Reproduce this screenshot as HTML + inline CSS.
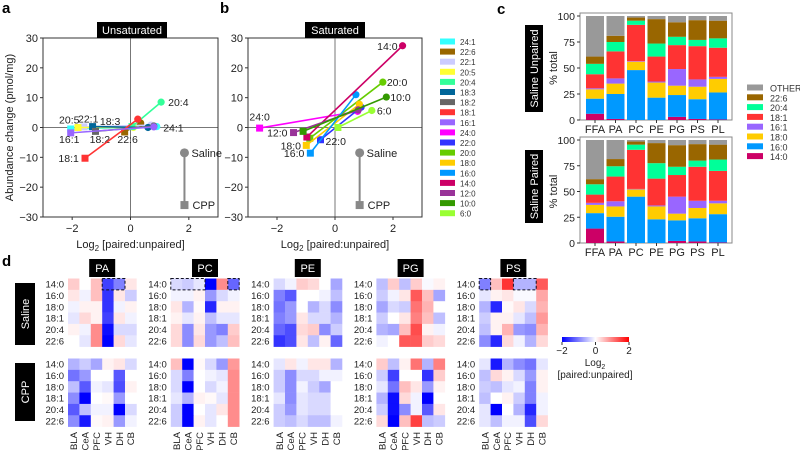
<!DOCTYPE html>
<html><head><meta charset="utf-8"><style>
body{margin:0;background:#fff}
svg{display:block;font-family:"Liberation Sans",Arial,sans-serif}
</style></head><body>
<svg id="fig" width="800" height="450" viewBox="0 0 800 450" xmlns="http://www.w3.org/2000/svg"></svg>
<script>
// ---------- data: panels a/b ----------
const unsatNames = ["24:1","22:6","22:1","20:5","20:4","18:3","18:2","18:1","16:1"];
const unsatColors = ["#33ffff","#996600","#ccccff","#ffff33","#33ff99","#006699","#666666","#ff3333","#9966ff"];
const unsatSalX = [0.9,0.35,0.7,0.1,1.05,0.6,0.8,0.25,0.8];
const unsatSalY = [0.3,1.5,0.8,0,8.5,0,0.5,2.8,0.2];
const unsatCppX = [-2.05,-0.2,-1.6,-1.8,0.05,-1.3,-1.2,-1.56,-2.05];
const unsatCppY = [-0.5,-1.5,0.2,0,0.3,0.3,-1.3,-10.3,-1.8];
const satNames = ["24:0","22:0","20:0","18:0","16:0","14:0","12:0","10:0","6:0"];
const satColors = ["#ff00ff","#3333ff","#66cc00","#ffcc00","#0099ff","#cc0066","#993399","#339900","#99ff33"];
const satSalX = [0.78,0.9,1.65,0.84,0.72,2.33,0.8,1.77,1.27];
const satSalY = [5.4,6.8,15.2,7.8,11,27.4,5.9,10.2,5.7];
const satCppX = [-2.6,-0.5,-0.87,-0.99,-0.85,-0.97,-1.43,-1.1,0.1];
const satCppY = [-0.2,-4.1,-3.6,-6,-8.6,-3.2,-1.7,-1.3,0];
const xTicks = [-2,0,2];
const yTicks = [30,20,10,0,-10,-20,-30];
// ---------- data: panel c ----------
const classes = ["FFA","PA","PC","PE","PG","PS","PL"];
const stackNames = ["14:0","16:0","18:0","16:1","18:1","20:4","22:6","OTHER"];
const stackColors = ["#cc0066","#0099ff","#ffcc00","#9966ff","#ff3333","#00ff99","#996600","#999999"];
const unpaired = [
 [6,14.5,9,1,13.5,10,7,39],[1,24,10,5,26,9,6,19],[0,48,8,0.5,35,4,3,1.5],
 [0,21.5,14.5,1,24,12.5,23.5,3],[3,21,9,16,23,8,14,6],[1,19,12,7,32,6,19,4],[0.5,26,13,2,28,9,17,4.5]];
const paired = [
 [14,15,8,2,8,10,5,38],[1.5,24,10,5,24,10,7,18.5],[0,45,7,0.5,38,5,3,1.5],
 [0,23,12.5,1,26,15,19.5,3],[2,20,6.5,16.5,21,8,21,5],[1.5,22.5,10,7,33,6,16,4],[0.5,27.5,10.5,2.5,29,11,14.5,4.5]];
const pctTicks = [0,25,50,75,100];
// ---------- data: panel d ----------
const hmClasses = ["PA","PC","PE","PG","PS"];
const hmRows = ["14:0","16:0","18:0","18:1","20:4","22:6"];
const hmCols = ["BLA","CeA","PFC","VH","DH","CB"];
const salineVals = [
 [[0.4,0,0.5,-1.5,-1,0.2],[0.2,-0.1,0.5,-1.6,0.2,-0.4],[-0.1,0.1,0.1,-1.6,-0.1,0.1],[-0.2,0.3,0.1,-1.5,0.2,-0.1],[0.1,-0.1,0.9,-1.9,-0.3,-0.3],[0,-0.2,0.9,-2,0.3,-0.2]],
 [[-0.3,-0.4,-0.2,-2,0.9,-1.2],[-0.1,-0.1,0.1,-0.8,-0.3,-0.1],[0.2,-0.6,0.05,-1.7,0.1,0.1],[0.1,-0.2,0.1,-0.5,-0.2,-0.2],[0.3,-0.9,0.2,-0.8,-1,0.4],[0.3,-0.9,0.3,-0.8,-0.5,0.5]],
 [[-0.3,-0.1,0.4,0.3,0,-0.7],[-1,-1.3,0,0,-0.1,-0.5],[-1.1,-0.8,0,-0.6,-0.3,-0.9],[-1,-0.8,0.2,-0.3,-0.3,-0.6],[-1.2,-1.4,0.3,0.4,-0.9,-0.4],[-1.6,-1.4,0.2,-0.5,0.1,-1.2]],
 [[-0.5,0.4,-0.5,0.4,-0.05,0.1],[-0.4,-0.1,0.2,1.3,0.5,-0.7],[-0.7,-0.3,-0.4,1.1,0.6,0],[-0.4,0,0.2,1,0.5,-0.5],[-0.6,-0.7,0.5,1.4,0.1,-0.1],[-0.1,0,1.3,1.3,0.4,0.3]],
 [[-1,0.5,1.6,-0.6,-0.6,1.3],[-0.2,0.1,0.2,-0.05,-0.05,0.7],[-0.6,-1.7,0.05,0.2,-0.3,0.6],[-0.4,0.1,0.1,-0.2,-0.5,0.8],[-0.5,0.1,0.6,-0.8,-0.9,0.6],[-0.9,-1.7,0.3,-0.1,-0.6,0.3]]];
const cppVals = [
 [[-0.6,-0.4,-0.7,0.1,0.2,-0.3],[-1.1,-0.8,0,0,-1.3,0],[-0.5,-1.3,-0.1,-0.2,-1.4,0.1],[-0.9,-2,0,0.05,-0.8,0],[-1.3,-0.5,-0.1,-0.1,-2,-0.3],[-0.9,-1.8,0.05,0.1,-0.8,-0.1]],
 [[0.5,-2,0.05,-0.3,-0.8,0.8],[-0.3,-1,0,-0.1,-0.2,0.9],[-0.3,-2,0,-0.3,-0.1,0.9],[-0.2,-0.6,0.1,0.05,-0.2,0.9],[-0.4,-2,0,-0.2,0.2,0.9],[-0.4,-2,0.1,-0.2,0,0.9]],
 [[-0.2,0.2,-0.1,0.2,0.2,-0.6],[-0.4,-0.9,-0.3,-0.3,-0.1,-0.1],[-0.4,-0.9,-0.1,-0.4,-0.7,0],[-0.2,-0.9,-0.2,-0.3,-0.3,0],[-0.4,-0.8,-0.2,-0.3,-0.3,0],[-0.4,-0.5,-0.3,-0.5,-0.5,-0.1]],
 [[0.4,-0.5,0.1,1.1,-0.6,1],[-0.4,-1.5,0,0,-1.6,0.4],[-0.2,-1.1,0.5,0.2,-0.8,0.1],[-0.6,-1.9,0.3,-0.1,-2,0],[-0.4,-1.9,-0.9,-0.1,-1.3,0.2],[0.3,-2,0.5,1.5,-0.5,-0.4]],
 [[-0.2,-1.8,-0.6,-0.9,-1.1,-0.2],[-0.5,0.3,0.1,-0.3,-0.8,0.1],[-0.4,-0.5,-0.2,-0.1,-1,0.1],[-0.5,0,0.1,-0.4,-1,-0.1],[-0.2,-2,0,-0.6,-1.7,-0.1],[-0.2,-0.5,-0.1,-0.1,-1.4,0.3]]];

const NS="http://www.w3.org/2000/svg";
const svg=document.getElementById('fig');
function mk(tag,attrs,parent,name,inter){
  const e=document.createElementNS(NS,tag);
  for(const k in attrs) e.setAttribute(k,attrs[k]);
  
  
  (parent||svg).appendChild(e);return e;
}
function txt(x,y,s,size,anchor,parent,name,extra){
  const a={x:x,y:y,'font-size':size,'text-anchor':anchor||'start',fill:'#222'};
  if(extra) for(const k in extra) a[k]=extra[k];
  const t=mk('text',a,parent,name);t.textContent=s;return t;
}
function box(cx,y,w,h,s,name,rot){
  const g=mk('g',{},svg,name);
  mk('rect',{x:cx-w/2,y:y,width:w,height:h,fill:'#000'},g,name+'-bg');
  if(rot){txt(0,0,s,11,'middle',g,name+'-text',{fill:'#fff',transform:`translate(${cx+4},${y+h/2}) rotate(-90)`});}
  else txt(cx,y+h/2+4,s,11,'middle',g,name+'-text',{fill:'#fff'});
}
// panel letters
txt(2,13,'a',15,'start',svg,'panel-label-a',{'font-weight':'bold',fill:'#000'});
txt(220,13,'b',15,'start',svg,'panel-label-b',{'font-weight':'bold',fill:'#000'});
txt(497,14,'c',15,'start',svg,'panel-label-c',{'font-weight':'bold',fill:'#000'});
txt(2,266,'d',15,'start',svg,'panel-label-d',{'font-weight':'bold',fill:'#000'});

// ---------- scatter panels ----------
function scatter(L,R,title,names,colors,sx,sy,cx,cy,labelFn,key,keyX,showYLabel,tlX){
  const T=38,B=217;
  const X=v=>L+(v+3)/6*(R-L), Y=v=>T+(30-v)/60*(B-T);
  const g=mk('g',{},svg,key+'-chart');
  box(tlX,22,title==='Unsaturated'?70:60,16,title,key+'-title');
  mk('line',{x1:X(0),x2:X(0),y1:T,y2:B,stroke:'#777','stroke-width':1},g,'zero-vline');
  mk('line',{x1:L,x2:R,y1:Y(0),y2:Y(0),stroke:'#777','stroke-width':1},g,'zero-hline');
  mk('rect',{x:L,y:T,width:R-L,height:B-T,fill:'none',stroke:'#333','stroke-width':1},g,'plot-frame');
  yTicks.forEach(v=>{mk('line',{x1:L-3,x2:L,y1:Y(v),y2:Y(v),stroke:'#333'},g,'y-tick');
    txt(L-5,Y(v)+4,(v<0?'\u2212'+(-v):String(v)),11,'end',g,'y-tick-label');});
  xTicks.forEach(v=>{mk('line',{x1:X(v),x2:X(v),y1:B,y2:B+3,stroke:'#333'},g,'x-tick');
    txt(X(v),B+15,(v<0?'\u2212'+(-v):String(v)),11,'middle',g,'x-tick-label');});
  const xl=txt((L+R)/2,B+31,'Log',11,'middle',g,'x-axis-title');
  const s1=document.createElementNS(NS,'tspan');s1.setAttribute('font-size','8');s1.setAttribute('dy','3');s1.textContent='2';xl.appendChild(s1);
  const s2=document.createElementNS(NS,'tspan');s2.setAttribute('dy','-3');s2.textContent=' [paired:unpaired]';xl.appendChild(s2);
  if(showYLabel) txt(0,0,'Abundance change (pmol/mg)',11,'middle',g,'y-axis-title',{transform:`translate(13,${(T+B)/2}) rotate(-90)`});
  names.forEach((n,i)=>{
    const sg=mk('g',{},g,'series-'+n);
    mk('line',{x1:X(sx[i]),y1:Y(sy[i]),x2:X(cx[i]),y2:Y(cy[i]),stroke:colors[i],'stroke-width':1.6},sg,'series-line');
    mk('rect',{x:X(cx[i])-3.5,y:Y(cy[i])-3.5,width:7,height:7,fill:colors[i]},sg,'cpp-point');
    mk('circle',{cx:X(sx[i]),cy:Y(sy[i]),r:3.6,fill:colors[i]},sg,'saline-point');
    const lb=labelFn(n,i,X,Y); if(lb) txt(lb[0],lb[1],n,10.5,lb[2],sg,'point-label');
  });
  // key
  const kx=X(keyX);
  mk('line',{x1:kx,x2:kx,y1:Y(-8.5),y2:Y(-26),stroke:'#888','stroke-width':2},g,'key-stem');
  mk('circle',{cx:kx,cy:Y(-8.5),r:4.5,fill:'#888'},g,'key-saline-marker');
  mk('rect',{x:kx-4,y:Y(-26)-4,width:8,height:8,fill:'#888'},g,'key-cpp-marker');
  txt(kx+7,Y(-8.5)+4,'Saline',11,'start',g,'key-saline-label');
  txt(kx+8,Y(-26)+4,'CPP',11,'start',g,'key-cpp-label');
}
const unsatLabels={"20:4":[1,0,'s'],"24:1":[1,0,'s'],"18:1":[0,0,'c'],"16:1":[0,0,'c'],"18:2":[0,0,'c'],"22:6":[0,0,'c'],"20:5":[0,0,'c'],"22:1":[0,0,'c'],"18:3":[0,0,'c']};
scatter(43,218,'Unsaturated',unsatNames,unsatColors,unsatSalX,unsatSalY,unsatCppX,unsatCppY,(n,i,X,Y)=>{
  const p={"20:4":[X(unsatSalX[4])+7,Y(unsatSalY[4])+4,'start'],"24:1":[X(0.95)+5,Y(0)+4,'start'],
   "18:1":[X(-1.6)-5,Y(-10.3)+4,'end'],"16:1":[X(-2.1),Y(-4.5)+2,'middle'],"18:2":[X(-1.05),Y(-4.5)+2,'middle'],
   "22:6":[X(-0.1),Y(-4.5)+2,'middle'],"20:5":[X(-2.1),Y(2)+2,'middle'],"22:1":[X(-1.45),Y(2.3)+2,'middle'],"18:3":[X(-0.7),Y(0.8),'middle']};
  return p[n];},'unsaturated',1.85,true,132);
scatter(248,422,'Saturated',satNames,satColors,satSalX,satSalY,satCppX,satCppY,(n,i,X,Y)=>{
  const p={"14:0":[X(satSalX[5])-5,Y(satSalY[5])+4,'end'],"20:0":[X(satSalX[2])+4,Y(satSalY[2])+4,'start'],
   "10:0":[X(satSalX[7])+4,Y(satSalY[7])+4,'start'],"6:0":[X(satSalX[8])+5,Y(satSalY[8])+4,'start'],
   "24:0":[X(-2.6),Y(2.3),'middle'],"12:0":[X(-1.43)-6,Y(-1.7)+4,'end'],"22:0":[X(-0.5)+5,Y(-4.5)+4,'start'],
   "18:0":[X(-1)-5,Y(-6)+4,'end'],"16:0":[X(-0.85)-6,Y(-8.6)+4,'end']};
  return p[n];},'saturated',0.85,false,335);

// legend a/b
const legNames=unsatNames.concat(satNames), legColors=unsatColors.concat(satColors);
legNames.forEach((n,i)=>{const y=42+i*10.1;
  const g=mk('g',{},svg,'legend-entry');
  mk('rect',{x:440,y:y-3.5,width:15,height:6,fill:legColors[i]},g,'legend-swatch');
  txt(460,y+3,n,8,'start',g,'legend-label',{fill:'#333'});});

// ---------- panel c ----------
function stacked(T,B,data,key){
  const L=580,R=732,Y=v=>B-(v/100)*(B-T);
  const g=mk('g',{},svg,key);
  mk('rect',{x:L,y:T-3,width:R-L,height:B-T+3,fill:'none',stroke:'#888'},g,'plot-frame');
  pctTicks.forEach(v=>{mk('line',{x1:L-3,x2:L,y1:Y(v),y2:Y(v),stroke:'#333'},g,'y-tick');
    txt(L-5,Y(v)+4,String(v),10.5,'end',g,'y-tick-label');});
  txt(0,0,'% total',11,'middle',g,'y-axis-title',{transform:`translate(557,${(T+B)/2}) rotate(-90)`});
  classes.forEach((c,i)=>{const cx=595+i*20.5;let acc=0;
    data[i].forEach((v,j)=>{mk('rect',{x:cx-9,y:Y(acc+v),width:18,height:Y(acc)-Y(acc+v),fill:stackColors[j]},g,'bar-'+c+'-'+stackNames[j]);acc+=v;});
    mk('line',{x1:cx,x2:cx,y1:B,y2:B+3,stroke:'#333'},g,'x-tick');
    txt(cx,B+13,c,11,'middle',g,'x-tick-label');});
}
stacked(16,120,unpaired,'saline-unpaired-chart');
stacked(140,243,paired,'saline-paired-chart');
box(534,25,18,87,'Saline Unpaired','saline-unpaired-label',true);
box(534,150,18,73,'Saline Paired','saline-paired-label',true);
stackNames.slice().reverse().forEach((n,i)=>{const y=88+i*9.8;const k=7-i;
  const g=mk('g',{},svg,'legend-entry');
  mk('rect',{x:747,y:y-3.5,width:16,height:6,fill:stackColors[k]},g,'legend-swatch');
  txt(770,y+3.5,n,9,'start',g,'legend-label',{fill:'#333'});});

// ---------- panel d ----------
function col(v){const t=Math.max(-1,Math.min(1,v/2));
  if(t<0){const a=Math.round(255*(1+t));return `rgb(${a},${a},255)`;}
  const a=Math.round(255*(1-t));return `rgb(255,${a},${a})`;}
const cw=11.4, rh=11.35;
hmClasses.forEach((c,p)=>{
  const L=68+p*102.8;
  box(L+cw*3,259,26,18,c,'heatmap-title-'+c);
  [[salineVals,278.5,'saline'],[cppVals,358.5,'cpp']].forEach(([vals,T,k])=>{
    const g=mk('g',{},svg,'heatmap-'+c+'-'+k);
    hmRows.forEach((r,ri)=>{
      txt(L-4,T+ri*rh+rh/2+3.5,r,9.5,'end',g,'row-label');
      hmCols.forEach((cc,ci)=>{mk('rect',{x:L+ci*cw,y:T+ri*rh,width:cw+0.3,height:rh+0.3,fill:col(vals[p][ri][ci])},g,'cell-'+r+'-'+cc);});
    });
  });
  hmCols.forEach((cc,ci)=>txt(0,0,cc,9.5,'end',svg,'col-label',{transform:`translate(${L+ci*cw+cw/2+3.5},432) rotate(-90)`}));
});
// dashed highlight boxes (saline 14:0)
[[0,3,2],[1,0,3],[1,5,1],[4,0,1],[4,3,2]].forEach(([p,c0,n])=>{
  mk('rect',{x:68+p*102.8+c0*cw,y:278.5,width:n*cw,height:rh,fill:'none',stroke:'#112',
    'stroke-width':1,'stroke-dasharray':'3,2'},svg,'highlight-box');});
box(25,283,20,62,'Saline','saline-row-label',true);
box(25,363,20,58,'CPP','cpp-row-label',true);

// colorbar
const defs=mk('defs',{},svg,'defs');
const lg=mk('linearGradient',{id:'cb',x1:'0',x2:'1',y1:'0',y2:'0'},defs,'colorbar-gradient');
[['0','#0000ff'],['0.5','#ffffff'],['1','#ff0000']].forEach(([o,cl])=>mk('stop',{offset:o,'stop-color':cl},lg,'gradient-stop'));
mk('rect',{x:562,y:337,width:67,height:5,fill:'url(#cb)'},svg,'colorbar');
[[-2,562],[0,595.5],[2,629]].forEach(([v,x])=>{mk('line',{x1:x,x2:x,y1:342,y2:345,stroke:'#333'},svg,'colorbar-tick');
  txt(x,354,v<0?'\u22122':String(v),10,'middle',svg,'colorbar-tick-label');});
const cbt=txt(595,366,'Log',10,'middle',svg,'colorbar-title');
const t2=document.createElementNS(NS,'tspan');t2.setAttribute('font-size','7');t2.setAttribute('dy','3');t2.textContent='2';cbt.appendChild(t2);
txt(595,378,'[paired:unpaired]',10,'middle',svg,'colorbar-subtitle');
</script>
</body></html>
